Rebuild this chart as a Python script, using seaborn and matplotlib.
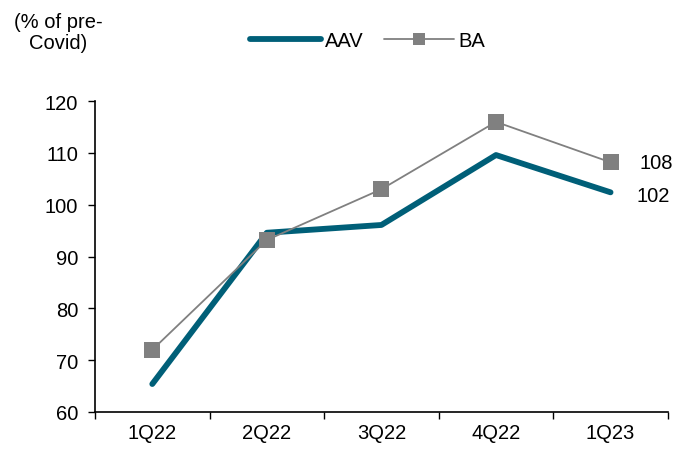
import numpy as np
import pandas as pd
import matplotlib
matplotlib.use('Agg')
import matplotlib.pyplot as plt
import seaborn as sns

quarters = ['1Q22', '2Q22', '3Q22', '4Q22', '1Q23']
aav = [65.4, 94.6, 96.1, 109.6, 102.4]
ba = [72.0, 93.2, 103.0, 116.0, 108.2]

sns.set_style('ticks')
plt.rcParams['font.family'] = ['Liberation Sans', 'DejaVu Sans']
plt.rcParams['font.size'] = 14.5
plt.rcParams['text.color'] = 'black'
plt.rcParams['xtick.color'] = 'black'
plt.rcParams['ytick.color'] = 'black'

df = pd.DataFrame({'quarter': quarters, 'pos': np.arange(len(quarters)),
                   'AAV': aav, 'BA': ba})

fig = plt.figure(figsize=(6.86, 4.52), dpi=100)
ax = fig.add_axes([0.1385, 0.0863, 0.835, 0.6877])

teal = '#005F78'
grey = '#808080'

sns.lineplot(data=df, x='pos', y='AAV', ax=ax, color=teal, linewidth=4.2,
             solid_capstyle='round', label='AAV')
sns.lineplot(data=df, x='pos', y='BA', ax=ax, color=grey, linewidth=1.3,
             marker='s', markersize=11, markeredgewidth=0, label='BA')

ax.set_xlim(-0.5, len(quarters) - 0.5)
ax.set_ylim(60, 120)
ax.set_yticks(np.arange(60, 121, 10))
ax.set_xticks(df['pos'])
ax.set_xticklabels(quarters)
ax.set_xticks(np.arange(-0.5, len(quarters), 1), minor=True)
ax.tick_params(axis='x', which='major', length=0, pad=8, labelsize=14.5)
ax.tick_params(axis='x', which='minor', length=5, width=1, direction='out')
ax.tick_params(axis='y', length=5, width=1, direction='out', pad=7, labelsize=14.5)
ax.set_xlabel('')
ax.set_ylabel('')
for s in ['top', 'right']:
    ax.spines[s].set_visible(False)
for s in ['left', 'bottom']:
    ax.spines[s].set_color('black')
    ax.spines[s].set_linewidth(1.2)

# end labels
ax.annotate(f'{ba[-1]:.0f}', (df['pos'].iloc[-1], ba[-1]), xytext=(21, 0),
            textcoords='offset points', va='center', ha='left')
ax.annotate(f'{aav[-1]:.0f}', (df['pos'].iloc[-1], aav[-1]), xytext=(19, -2),
            textcoords='offset points', va='center', ha='left')

fig.text(0.085, 0.927, '(% of pre-\nCovid)', ha='center', va='center',
         linespacing=1.1, multialignment='center')

leg = ax.legend(loc='center', bbox_to_anchor=(0.476, 1.195), ncol=2, frameon=False,
                handlelength=3.5, handletextpad=0.2, columnspacing=1.0,
                markerscale=0.75)

fig.savefig('out.png', dpi=100)
